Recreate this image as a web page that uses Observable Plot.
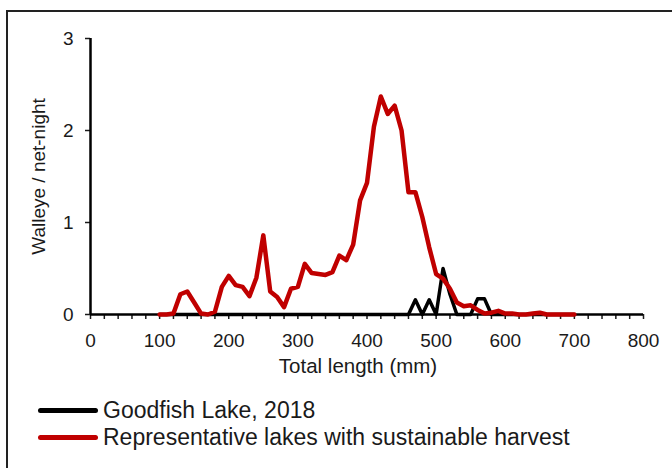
<!DOCTYPE html>
<html><head><meta charset="utf-8">
<script src="https://cdn.jsdelivr.net/npm/d3@7"></script>
<script src="https://cdn.jsdelivr.net/npm/@observablehq/plot@0.6"></script>
<style>
body{margin:0;background:#fff;font-family:Arial,"Liberation Sans",sans-serif;}
#wrap{position:relative;width:672px;height:468px;overflow:hidden;background:#fff;}
#frame{position:absolute;left:6px;top:10px;width:720px;height:520px;border-left:2px solid #222;border-top:2px solid #222;}
#chart{position:absolute;left:0;top:0;}
#legend{position:absolute;left:38px;top:397px;}
.row{display:flex;align-items:center;height:27px;}
.sw{width:60px;height:5px;border-radius:3px;margin-right:5px;}
.lab{font-size:23px;color:#1a1a1a;line-height:27px;white-space:nowrap;}
</style></head>
<body>
<div id="wrap"><div id="frame"></div><div id="chart"></div><div id="legend"></div></div>
<script>
const seriesNames = ["Goodfish Lake, 2018", "Representative lakes with sustainable harvest"];
const seriesColors = ["#000000", "#c00000"];

const lengths = [100,110,120,130,140,150,160,170,180,190,200,210,220,230,240,250,260,270,280,290,300,
  310,320,330,340,350,360,370,380,390,400,410,420,430,440,450,460,470,480,490,500,
  510,520,530,540,550,560,570,580,590,600,610,620,630,640,650,660,670,680,690,700];

const representative = [0,0,0.01,0.22,0.25,0.13,0.01,0,0.03,0.30,0.42,
  0.32,0.30,0.20,0.40,0.86,0.25,0.19,0.08,0.28,0.30,
  0.55,0.45,0.44,0.43,0.46,0.64,0.59,0.76,1.24,1.43,
  2.04,2.37,2.18,2.27,2.00,1.33,1.33,1.06,0.73,0.44,
  0.39,0.28,0.13,0.09,0.10,0.05,0.01,0.02,0.04,0.01,
  0.01,0,0,0.01,0.02,0,0,0,0,0];

const goodfish = [0,0,0,0,0,0,0,0,0,0,0,
  0,0,0,0,0,0,0,0,0,0,
  0,0,0,0,0,0,0,0,0,0,
  0,0,0,0,0,0,0.16,0,0.16,0,
  0.50,0.22,0,0,0,0.17,0.17,0,0,0,
  0,0,0,0,0,0,0,0,0,0];

const xMajorTicks = [0,100,200,300,400,500,600,700,800];
const xMinorTicks = [0,20,40,60,80,100,120,140,160,180,200,220,240,260,280,300,320,340,360,380,400,
  420,440,460,480,500,520,540,560,580,600,620,640,660,680,700,720,740,760,780,800];
const yTicks = [0,1,2,3];
const xTitle = "Total length (mm)";
const yTitle = "Walleye / net-night";

const rows = lengths.flatMap((L, i) => [
  {len: L, v: goodfish[i], s: seriesNames[0]},
  {len: L, v: representative[i], s: seriesNames[1]}
]);

const chart = Plot.plot({
  width: 672, height: 390,
  marginLeft: 90, marginRight: 29, marginTop: 38, marginBottom: 76,
  x: {domain: [0, 800]},
  y: {domain: [0, 3]},
  color: {domain: seriesNames, range: seriesColors},
  style: {fontFamily: "Arial, 'Liberation Sans', sans-serif", fontSize: "19px", color: "#1a1a1a", background: "transparent", overflow: "visible"},
  marks: [
    Plot.axisX({ticks: xMinorTicks, tickSize: 5, tickFormat: () => "", label: null, strokeWidth: 1.5}),
    Plot.axisX({ticks: xMajorTicks, tickSize: 0, tickPadding: 19, tickFormat: d => String(d), label: null}),
    Plot.axisY({ticks: yTicks, tickSize: 5, tickPadding: 12, tickFormat: d => String(d), label: null, strokeWidth: 1.5}),
    Plot.ruleY([0], {stroke: "#000", strokeWidth: 2.5}),
    Plot.ruleX([0], {stroke: "#000", strokeWidth: 2.5}),
    Plot.lineY(rows.filter(d => d.s === seriesNames[0]), {x: "len", y: "v", stroke: "s", strokeWidth: 3.5, strokeLinejoin: "round", strokeLinecap: "round"}),
    Plot.lineY(rows.filter(d => d.s === seriesNames[1]), {x: "len", y: "v", stroke: "s", strokeWidth: 4.5, strokeLinejoin: "round", strokeLinecap: "round"}),
    Plot.text([xTitle], {frameAnchor: "bottom", dx: -9, dy: 58, fontSize: 20.5, fill: "#1a1a1a"}),
    Plot.text([yTitle], {frameAnchor: "left", textAnchor: "middle", dx: -52, rotate: -90, fontSize: 19, fill: "#1a1a1a"})
  ]
});
document.getElementById("chart").appendChild(chart);

const legend = document.getElementById("legend");
seriesNames.forEach((name, i) => {
  const row = document.createElement("div");
  row.className = "row";
  const sw = document.createElement("div");
  sw.className = "sw";
  sw.style.background = seriesColors[i];
  const lab = document.createElement("span");
  lab.className = "lab";
  lab.textContent = name;
  row.appendChild(sw); row.appendChild(lab);
  legend.appendChild(row);
});
</script>
</body></html>
